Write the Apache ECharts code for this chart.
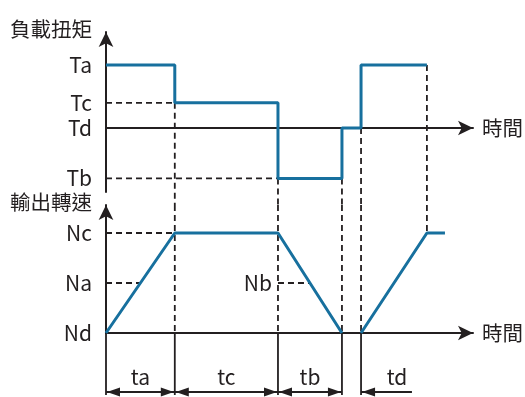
<!DOCTYPE html>
<html>
<head>
<meta charset="utf-8">
<script src="https://cdn.jsdelivr.net/npm/echarts@6/dist/echarts.min.js"></script>
<style>
html, body { margin: 0; padding: 0; background: #fff; }
#chart { width: 525px; height: 397px; }
</style>
</head>
<body>
<div id="chart"></div>
<script>
// torque levels (top chart)
const torqueNames = ['Ta', 'Tc', 'Td', 'Tb']
const torqueLevels = [2.5, 1.0, 0, -2.0]
// speed levels (bottom chart)
const speedNames = ['Nc', 'Na', 'Nd']
const speedLevels = [2, 1, 0]
const nbLevel = 1

// torque step profile: value holding from each time on
const torqueTimes = [0, 4, 10, 13.72, 14.83, 18.66]
const torqueSteps = [2.5, 1.0, -2.0, 0, 2.5, 2.5]

// speed profile, two pieces
const speedTimesA = [0, 4, 10, 13.72]
const speedValsA = [0, 2, 2, 0]
const speedTimesB = [14.83, 18.66, 19.71]
const speedValsB = [0, 2, 2]

// guide lines: time, torque level on top, speed level at bottom end
const guideTimes = [4, 10, 13.72, 14.83, 18.66]
const guideTorqueFrom = [1.0, -2.0, -2.0, 0, 2.5]
const guideSpeedTo = [0, 0, 0, 0, 2]

// period spans under the time axis
const periodNames = ['ta', 'tc', 'tb', 'td']
const periodStart = [0, 4, 10, 14.83]
const periodEnd = [4, 10, 13.72, 17.79]
const periodLabelAt = [2, 7, 11.86, 16.92]
const periodTicks = [0, 4, 10, 13.72, 14.83]

const INK = '#231f20'
const BLUE = '#17709e'
const FONT = '"Noto Sans CJK TC", "Noto Sans", sans-serif'
const X_MAX = 21.34
const T_MIN = -2.54
const T_MAX = 3.81
const S_MAX = 2.56
const GAP = 13
const DASH = [6, 4]

const chart = echarts.init(document.getElementById('chart'))

const pairs = (xs, ys) => xs.map((x, i) => [x, ys[i]])

const dashed = (idx, pts) => ({
  type: 'line',
  xAxisIndex: idx,
  yAxisIndex: idx,
  data: pts,
  symbol: 'none',
  silent: true,
  z: 1,
  lineStyle: { color: INK, width: 1.8, type: DASH }
})

const axisCommon = {
  axisTick: { show: false },
  splitLine: { show: false }
}

const makeYAxis = (idx, min, max, names, levels, title) => ({
  type: 'value',
  gridIndex: idx,
  min,
  max,
  ...axisCommon,
  axisLine: {
    show: true,
    onZero: false,
    symbol: ['none', 'arrow'],
    symbolSize: [11, 15],
    lineStyle: { color: INK, width: 2 }
  },
  axisLabel: {
    customValues: levels,
    margin: 14,
    color: INK,
    fontSize: 21,
    fontFamily: FONT,
    formatter: (v) => names[levels.indexOf(v)] || ''
  },
  name: title,
  nameLocation: 'end',
  nameGap: 3,
  nameTextStyle: {
    color: INK,
    fontSize: 20.5,
    fontFamily: FONT,
    align: 'right',
    verticalAlign: 'middle',
    padding: [0, 14, 0, 0]
  }
})

const makeXAxis = (idx) => ({
  type: 'value',
  gridIndex: idx,
  min: 0,
  max: X_MAX,
  ...axisCommon,
  axisLabel: { show: false },
  axisLine: {
    show: true,
    onZero: true,
    symbol: ['none', 'arrow'],
    symbolSize: [11, 15],
    lineStyle: { color: INK, width: 2 }
  },
  name: '時間',
  nameLocation: 'end',
  nameGap: 9,
  nameTextStyle: { color: INK, fontSize: 20.5, fontFamily: FONT }
})

// vertical dashed guides in top chart, running past its bottom edge
const renderGuideTop = (params, api) => {
  const p = api.coord([api.value(0), api.value(1)])
  const b = api.coord([api.value(0), T_MIN])
  return {
    type: 'line',
    shape: { x1: p[0], y1: p[1], x2: b[0], y2: b[1] + GAP },
    style: { stroke: INK, lineWidth: 1.8, lineDash: DASH }
  }
}

const renderGuideBottom = (params, api) => {
  const p = api.coord([api.value(0), S_MAX])
  const b = api.coord([api.value(0), api.value(1)])
  return {
    type: 'line',
    shape: { x1: p[0], y1: p[1], x2: b[0], y2: b[1] },
    style: { stroke: INK, lineWidth: 1.8, lineDash: DASH }
  }
}

// solid ticks below the time axis
const renderTick = (params, api) => {
  const p = api.coord([api.value(0), 0])
  return {
    type: 'line',
    shape: { x1: p[0], y1: p[1], x2: p[0], y2: p[1] + 62 },
    style: { stroke: INK, lineWidth: 1.8 }
  }
}

// double arrows for periods
const renderSpan = (params, api) => {
  const a = api.coord([api.value(0), 0])
  const b = api.coord([api.value(1), 0])
  const y = a[1] + 59
  const L = 13
  const H = 4.5
  const children = [{
    type: 'line',
    shape: { x1: a[0], y1: y, x2: b[0], y2: y },
    style: { stroke: INK, lineWidth: 1.8 }
  }]
  if (api.value(2)) {
    children.push({
      type: 'polygon',
      shape: { points: [[a[0] + 1, y], [a[0] + 1 + L, y - H], [a[0] + 1 + L, y + H]] },
      style: { fill: INK }
    })
  }
  if (api.value(3)) {
    children.push({
      type: 'polygon',
      shape: { points: [[b[0] - 1, y], [b[0] - 1 - L, y - H], [b[0] - 1 - L, y + H]] },
      style: { fill: INK }
    })
  }
  return { type: 'group', children }
}

const renderPeriodLabel = (params, api) => {
  const p = api.coord([api.value(0), 0])
  return {
    type: 'text',
    style: {
      text: periodNames[params.dataIndex],
      x: p[0],
      y: p[1] + 44,
      align: 'center',
      verticalAlign: 'middle',
      fill: INK,
      font: '21px ' + FONT
    }
  }
}

const renderNb = (params, api) => {
  const p = api.coord([api.value(0), api.value(1)])
  return {
    type: 'text',
    style: {
      text: 'Nb',
      x: p[0] - 6,
      y: p[1],
      align: 'right',
      verticalAlign: 'middle',
      fill: INK,
      font: '21px ' + FONT
    }
  }
}

const option = {
  animation: false,
  backgroundColor: '#fff',
  grid: [
    { left: 106, top: 32, width: 367, height: 160 },
    { left: 106, top: 205, width: 367, height: 128 }
  ],
  xAxis: [makeXAxis(0), makeXAxis(1)],
  yAxis: [
    makeYAxis(0, T_MIN, T_MAX, torqueNames, torqueLevels, '負載扭矩'),
    makeYAxis(1, 0, S_MAX, speedNames, speedLevels, '輸出轉速')
  ],
  series: [
    dashed(0, [[0, torqueLevels[1]], [4, torqueLevels[1]]]),
    dashed(0, [[0, torqueLevels[3]], [10, torqueLevels[3]]]),
    dashed(1, [[0, speedLevels[0]], [4, speedLevels[0]]]),
    dashed(1, [[0, speedLevels[1]], [2, speedLevels[1]]]),
    dashed(1, [[10, nbLevel], [11.86, nbLevel]]),
    {
      type: 'custom',
      xAxisIndex: 0,
      yAxisIndex: 0,
      renderItem: renderGuideTop,
      data: pairs(guideTimes, guideTorqueFrom),
      silent: true,
      z: 1
    },
    {
      type: 'custom',
      xAxisIndex: 1,
      yAxisIndex: 1,
      renderItem: renderGuideBottom,
      data: pairs(guideTimes, guideSpeedTo),
      silent: true,
      z: 1
    },
    {
      type: 'custom',
      xAxisIndex: 1,
      yAxisIndex: 1,
      renderItem: renderTick,
      data: periodTicks.map(t => [t]),
      silent: true
    },
    {
      type: 'custom',
      xAxisIndex: 1,
      yAxisIndex: 1,
      renderItem: renderSpan,
      data: periodStart.map((s, i) => [s, periodEnd[i], 1, i < 3 ? 1 : 0]),
      silent: true
    },
    {
      type: 'custom',
      xAxisIndex: 1,
      yAxisIndex: 1,
      renderItem: renderPeriodLabel,
      data: periodLabelAt.map(t => [t]),
      silent: true
    },
    {
      type: 'custom',
      xAxisIndex: 1,
      yAxisIndex: 1,
      renderItem: renderNb,
      data: [[10, nbLevel]],
      silent: true
    },
    {
      type: 'line',
      xAxisIndex: 0,
      yAxisIndex: 0,
      step: 'end',
      data: pairs(torqueTimes, torqueSteps),
      symbol: 'none',
      z: 5,
      lineStyle: { color: BLUE, width: 3 }
    },
    {
      type: 'line',
      xAxisIndex: 1,
      yAxisIndex: 1,
      data: pairs(speedTimesA, speedValsA),
      symbol: 'none',
      z: 5,
      lineStyle: { color: BLUE, width: 3 }
    },
    {
      type: 'line',
      xAxisIndex: 1,
      yAxisIndex: 1,
      data: pairs(speedTimesB, speedValsB),
      symbol: 'none',
      z: 5,
      lineStyle: { color: BLUE, width: 3 }
    }
  ]
}

chart.setOption(option)
</script>
</body>
</html>
